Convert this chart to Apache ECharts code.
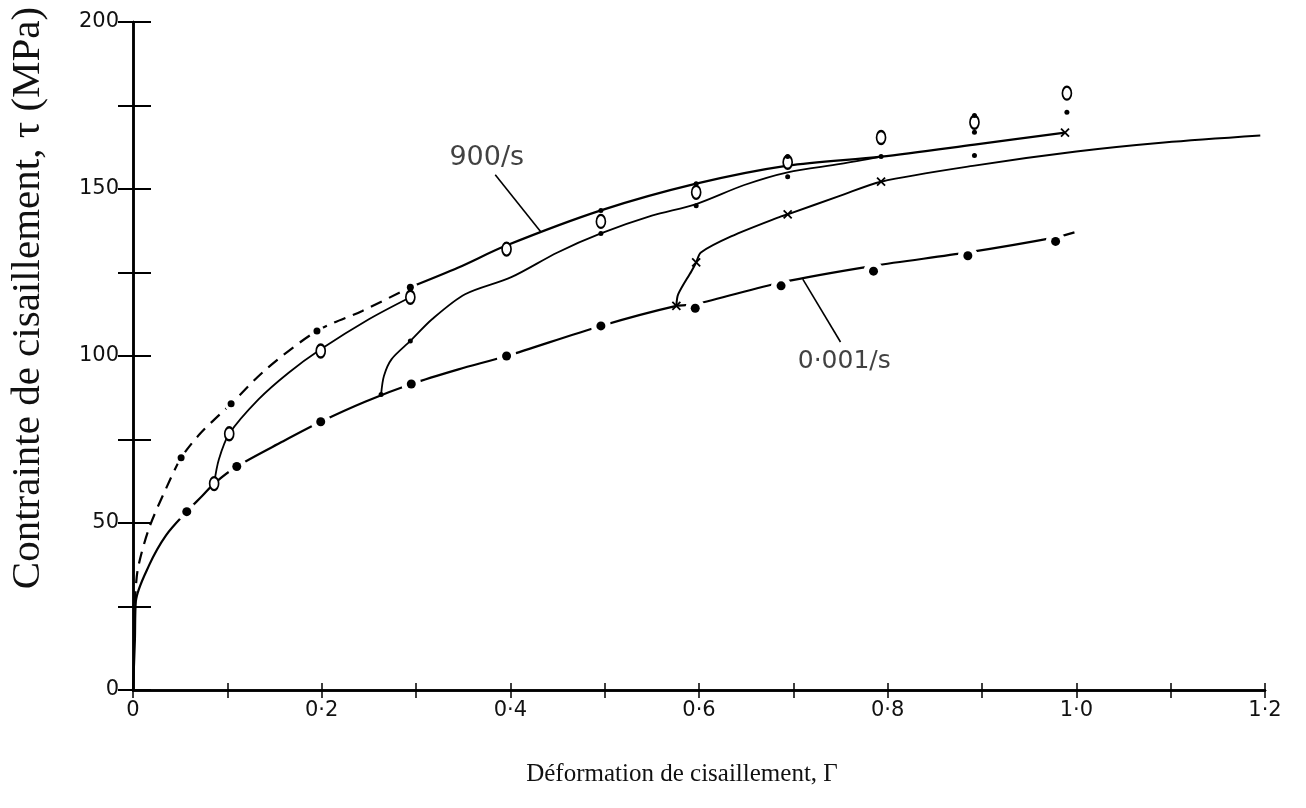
<!DOCTYPE html>
<html>
<head>
<meta charset="utf-8">
<script src="https://cdn.jsdelivr.net/npm/echarts@6/dist/echarts.min.js"></script>
<style>
  html, body { margin: 0; padding: 0; background: #fff; }
  #chart { width: 1306px; height: 808px; }
</style>
</head>
<body>
<div id="chart"></div>
<script>
// ---- tick labels ----
const xTickLabels = ['0', '0·2', '0·4', '0·6', '0·8', '1·0', '1·2'];
const yTickLabels = ['0', '50', '100', '150', '200'];

// ---- curves ----
const curve900Dashed = [[0.002,26],[0.005,36],[0.017,48.4],[0.035,60.3],[0.051,69.5],[0.072,77],[0.104,85.7],[0.141,96],[0.195,107.5],[0.243,113.5],[0.294,120.6]];
const curve900Solid = [[0.294,120.6],[0.345,126.5],[0.395,133],[0.496,143.6],[0.597,151.6],[0.694,157],[0.793,159.7],[0.892,163.3],[0.988,166.9]];
const curveOpen = [[0.086,61.8],[0.091,69],[0.102,76.7],[0.133,87],[0.165,95],[0.199,102],[0.250,111],[0.294,117.6]];
const curveReload1 = [[0.263,88.5],[0.266,94],[0.274,99],[0.294,104.5],[0.317,111],[0.352,118.5],[0.401,123.6],[0.45,131],[0.496,136.7],[0.55,142],[0.597,145.5],[0.648,151.2],[0.694,155],[0.75,157.5],[0.793,159.7]];
const curveReload2 = [[0.576,115],[0.578,118.5],[0.592,125.4],[0.597,128],[0.602,131],[0.634,135.8],[0.687,141.8],[0.694,142.4],[0.75,148],[0.793,152.2],[0.892,157],[1.0,161.2],[1.093,163.9],[1.195,166]];
const curve001 = [[0,0],[0.002,15],[0.003,26.5],[0.017,37.3],[0.035,46.3],[0.057,53.4],[0.073,58],[0.086,61.8],[0.110,66.9],[0.158,74.3],[0.199,80.3],[0.246,86.3],[0.295,91.6],[0.345,96],[0.396,100],[0.496,109],[0.576,115],[0.596,115.5],[0.687,122],[0.785,127],[0.885,131],[0.978,135.5],[0.998,137]];

// ---- markers ----
const dots001 = [[0.057,53.4],[0.110,66.9],[0.199,80.3],[0.295,91.6],[0.396,100],[0.496,109],[0.596,114.3],[0.687,121],[0.785,125.4],[0.885,130],[0.978,134.3]];
const dots900 = [[0.051,69.5],[0.104,85.7],[0.195,107.5],[0.294,120.6]];
const openCircles = [[0.086,61.8],[0.102,76.7],[0.199,101.5],[0.294,117.6],[0.396,132],[0.496,140.3],[0.597,149],[0.694,158],[0.793,165.4],[0.892,170],[0.99,178.7]];
const smallDots = [[0.263,88.5],[0.294,104.5],[0.496,143.6],[0.496,136.7],[0.597,151.6],[0.597,145],[0.694,159.7],[0.694,153.7],[0.793,159.7],[0.892,172],[0.892,167],[0.892,160],[0.99,173]];
const crosses = [[0.576,115],[0.597,128],[0.694,142.4],[0.793,152.2],[0.988,166.9]];

// ---- annotations ----
const label900 = { text: '900/s', at: [0.375, 159.4] };
const leader900 = [[0.384,154.3],[0.432,137.3]];
const label001 = { text: '0·001/s', at: [0.754, 98.5] };
const leader001 = [[0.750,104.2],[0.710,123]];

const chart = echarts.init(document.getElementById('chart'), null, { renderer: 'canvas' });

const axisFont = { fontFamily: 'DejaVu Sans', fontSize: 21, color: '#111' };
const lineBase = (data, extra) => Object.assign({
  type: 'line', data: data, smooth: 0.3, symbol: 'none', z: 2,
  lineStyle: { color: '#000', width: 2.2 }
}, extra || {});

const option = {
  animation: false,
  backgroundColor: '#fff',
  grid: { left: 133, right: 41, top: 22, bottom: 118 },
  xAxis: [{
    type: 'value', min: 0, max: 1.2, interval: 0.1, position: 'bottom',
    name: 'Déformation de cisaillement, Γ', nameLocation: 'middle', nameGap: 72,
    nameTextStyle: { fontFamily: 'Liberation Serif', fontSize: 25, color: '#111', padding: [0, 34, 0, 0] },
    axisLine: { lineStyle: { color: '#000', width: 2.5 } },
    axisTick: { inside: true, length: 7, lineStyle: { color: '#000', width: 1.5 } },
    axisLabel: Object.assign({ margin: 10, formatter: function (v) {
      const k = Math.round(v * 10);
      return k % 2 === 0 ? xTickLabels[k / 2] : '';
    } }, axisFont),
    splitLine: { show: false }
  }, {
    type: 'value', min: 0, max: 1.2, interval: 0.1, position: 'top',
    axisLine: { lineStyle: { color: '#000', width: 2.5 } },
    axisTick: { inside: true, length: 8, lineStyle: { color: '#000', width: 1.5 } },
    axisLabel: { show: false }, splitLine: { show: false }
  }],
  yAxis: [{
    type: 'value', min: 0, max: 200, interval: 25, position: 'left',
    name: 'Contrainte de cisaillement, τ (MPa)', nameLocation: 'middle', nameGap: 84,
    nameTextStyle: { fontFamily: 'Liberation Serif', fontSize: 41, color: '#111', padding: [0, 0, 0, 116] },
    axisLine: { lineStyle: { color: '#000', width: 2.5 } },
    axisTick: { inside: true, length: 18, lineStyle: { color: '#000', width: 2 } },
    axisLabel: Object.assign({ margin: 14, formatter: function (v) {
      return v % 50 === 0 ? yTickLabels[v / 50] : '';
    } }, axisFont),
    splitLine: { show: false }
  }, {
    type: 'value', min: 0, max: 200, interval: 25, position: 'right',
    axisLine: { show: true, lineStyle: { color: '#000', width: 2.5 } },
    axisTick: { show: true, inside: true, length: 15, lineStyle: { color: '#000', width: 2 } },
    axisLabel: { show: false }, splitLine: { show: false }
  }],
  series: [
    lineBase(curve900Dashed, { lineStyle: { color: '#000', width: 2.2, type: [12, 8] } }),
    lineBase(curve900Solid),
    lineBase(curveOpen, { lineStyle: { color: '#000', width: 1.8 } }),
    lineBase(curveReload1, { lineStyle: { color: '#000', width: 1.8 } }),
    lineBase(curveReload2, { lineStyle: { color: '#000', width: 2 } }),
    lineBase(curve001),
    // annotation leaders
    { type: 'line', data: leader900, symbol: 'none', z: 2, lineStyle: { color: '#000', width: 1.6 } },
    { type: 'line', data: leader001, symbol: 'none', z: 2, lineStyle: { color: '#000', width: 1.6 } },
    // white halos around dots of the low-rate curve (gaps in the line)
    { type: 'scatter', data: dots001, symbol: 'circle', symbolSize: 20, z: 3, silent: true,
      itemStyle: { color: '#fff', opacity: 1 } },
    { type: 'scatter', data: dots001, symbol: 'circle', symbolSize: 9, z: 4,
      itemStyle: { color: '#000', opacity: 1 } },
    { type: 'scatter', data: dots900, symbol: 'circle', symbolSize: 14, z: 3, silent: true,
      itemStyle: { color: '#fff', opacity: 1 } },
    { type: 'scatter', data: dots900, symbol: 'circle', symbolSize: 7, z: 4,
      itemStyle: { color: '#000', opacity: 1 } },
    { type: 'scatter', data: openCircles, symbol: 'circle', symbolSize: [9, 13], z: 4,
      itemStyle: { color: '#fff', borderColor: '#000', borderWidth: 2, opacity: 1 } },
    { type: 'scatter', data: smallDots, symbol: 'circle', symbolSize: 5, z: 4,
      itemStyle: { color: '#000', opacity: 1 } },
    { type: 'scatter', data: crosses, symbol: 'path://M0,0L10,10M10,0L0,10', symbolSize: 8, z: 4,
      itemStyle: { color: 'none', borderColor: '#000', borderWidth: 1.8, opacity: 1 } },
    // annotation texts
    { type: 'scatter', data: [label900.at], symbolSize: 0, z: 5, silent: true,
      label: { show: true, position: 'inside', formatter: label900.text,
        fontFamily: 'DejaVu Sans', fontSize: 27, color: '#111' } },
    { type: 'scatter', data: [label001.at], symbolSize: 0, z: 5, silent: true,
      label: { show: true, position: 'inside', formatter: label001.text,
        fontFamily: 'DejaVu Sans', fontSize: 25, color: '#111' } }
  ]
};
chart.setOption(option);
</script>
</body>
</html>
